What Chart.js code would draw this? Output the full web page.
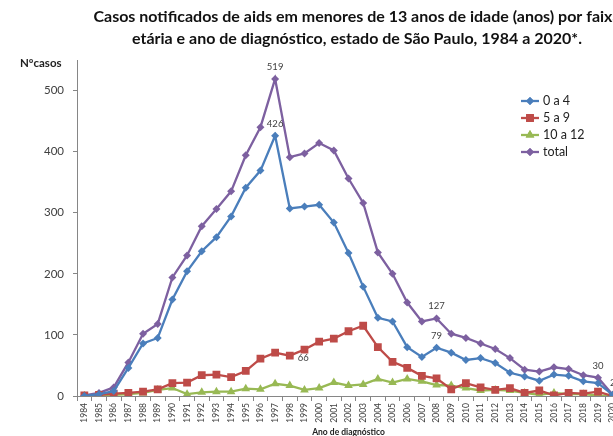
<!DOCTYPE html>
<html>
<head>
<meta charset="utf-8">
<script src="https://cdn.jsdelivr.net/npm/chart.js@4.4.1/dist/chart.umd.min.js"></script>
<style>
  html, body { margin: 0; padding: 0; background: #fff; overflow: hidden; }
  #wrap { width: 714px; height: 445px; }
</style>
</head>
<body>
<div id="wrap"><canvas id="chart" width="714" height="445"></canvas></div>
<script>
const years = ["1984", "1985", "1986", "1987", "1988", "1989", "1990", "1991", "1992", "1993",
  "1994", "1995", "1996", "1997", "1998", "1999", "2000", "2001", "2002", "2003", "2004",
  "2005", "2006", "2007", "2008", "2009", "2010", "2011", "2012", "2013", "2014", "2015",
  "2016", "2017", "2018", "2019", "2020"];

const age0to4 = [0, 3, 8, 46, 86, 95, 158, 204, 237, 260, 294, 341, 369, 426, 307, 310, 313,
  284, 234, 179, 128, 122, 80, 64, 79, 71, 59, 62, 54, 38, 32, 25, 35, 33, 24, 21, 2];
const age5to9 = [1, 2, 4, 5, 7, 11, 21, 22, 34, 35, 31, 41, 61, 71, 66, 76, 89, 94, 106, 115,
  80, 56, 46, 33, 29, 11, 21, 14, 10, 13, 5, 9, 1, 5, 4, 7, 0];
const age10to12 = [0, 0, 2, 3, 5, 10, 13, 3, 6, 7, 7, 12, 11, 20, 17, 10, 13, 22, 17, 19, 28,
  22, 28, 24, 18, 17, 13, 9, 10, 9, 5, 2, 5, 3, 3, 1, 0];
const total = [1, 5, 14, 55, 102, 118, 194, 230, 278, 306, 335, 394, 440, 519, 391, 397, 414,
  402, 356, 316, 235, 200, 153, 122, 127, 102, 95, 86, 77, 62, 43, 40, 47, 44, 34, 30, 2];

const seriesNames = ["0 a 4", "5 a 9", "10 a 12", "total"];
const yTicks = [0, 100, 200, 300, 400, 500];

// which points carry a value label: [series index, year]
const labeledPoints = [[3, "1997"], [0, "1997"], [1, "1998"], [3, "2008"], [0, "2008"], [3, "2019"], [3, "2020"]];

const colors = ["#4a7ebb", "#be4b48", "#98b954", "#7d60a0"];
const markers = [
  { style: "rectRot", radius: 4 },
  { style: "rect", radius: 5.5 },
  { style: "triangle", radius: 5 },
  { style: "rectRot", radius: 4 },
];
const txt = "#404040";
const axisColor = "#868686";

function makeDataset(i, data) {
  return {
    label: seriesNames[i],
    data,
    borderColor: colors[i],
    backgroundColor: colors[i],
    borderWidth: 2.3,
    pointStyle: markers[i].style,
    pointRadius: markers[i].radius,
    pointBorderWidth: 0,
    tension: 0,
  };
}

const valueLabels = {
  id: "valueLabels",
  afterDatasetsDraw(chart) {
    const ctx = chart.ctx;
    ctx.save();
    ctx.font = "9.5px Lato";
    ctx.fillStyle = txt;
    ctx.textBaseline = "middle";
    labeledPoints.forEach(([si, year]) => {
      const idx = years.indexOf(year);
      const pt = chart.getDatasetMeta(si).data[idx];
      const val = chart.data.datasets[si].data[idx];
      if (si === 1) {
        // the 5 a 9 label sits to the right of its marker
        ctx.textAlign = "left";
        ctx.fillText(String(val), pt.x + 8, pt.y + 2);
      } else {
        ctx.textAlign = "center";
        ctx.fillText(String(val), pt.x, pt.y - 12);
      }
    });
    ctx.restore();
  },
};

const extras = {
  id: "extras",
  afterDraw(chart) {
    const ctx = chart.ctx;
    ctx.save();
    // y axis caption
    ctx.font = "bold 11.5px Lato";
    ctx.fillStyle = "#222";
    ctx.textAlign = "left";
    ctx.textBaseline = "middle";
    ctx.fillText("Nºcasos", 20, 63);

    // legend
    const lx = 521;
    const rows = [101, 118, 135, 152];
    chart.data.datasets.forEach((ds, i) => {
      const y = rows[i];
      ctx.strokeStyle = ds.borderColor;
      ctx.lineWidth = 2.3;
      ctx.beginPath();
      ctx.moveTo(lx, y);
      ctx.lineTo(lx + 18, y);
      ctx.stroke();
      ctx.fillStyle = ds.backgroundColor;
      Chart.helpers.drawPoint(ctx, { pointStyle: ds.pointStyle, radius: ds.pointRadius, borderWidth: 0 }, lx + 9, y);
      ctx.fill();
      ctx.fillStyle = "#222";
      ctx.font = "12.5px Lato";
      ctx.textAlign = "left";
      ctx.textBaseline = "middle";
      ctx.fillText(ds.label, lx + 22, y);
    });
    ctx.restore();
  },
};

new Chart(document.getElementById("chart"), {
  type: "line",
  data: {
    labels: years,
    datasets: [
      makeDataset(0, age0to4),
      makeDataset(1, age5to9),
      makeDataset(2, age10to12),
      makeDataset(3, total),
    ],
  },
  options: {
    responsive: false,
    animation: false,
    layout: { padding: 0 },
    plugins: {
      legend: { display: false },
      tooltip: { enabled: false },
      title: {
        display: true,
        text: [
          "Casos notificados de aids em menores de 13 anos de idade (anos) por faixa",
          "etária e ano de diagnóstico, estado de São Paulo, 1984 a 2020*.",
        ],
        color: "#111",
        font: { family: "Lato", size: 16, weight: "bold", lineHeight: 1.375 },
        padding: { top: 6, bottom: 10 },
      },
    },
    scales: {
      x: {
        offset: true,
        grid: { display: true, offset: true, drawOnChartArea: false, drawTicks: true, tickLength: 5, color: axisColor },
        border: { color: axisColor, width: 1 },
        ticks: { color: txt, font: { family: "Lato", size: 8.5 }, minRotation: 90, maxRotation: 90, autoSkip: false, padding: 2 },
        title: {
          display: true,
          text: "Ano de diagnóstico",
          color: "#222",
          font: { family: "Lato", size: 8.5, weight: "bold", lineHeight: 1.2 },
          padding: { top: 2, bottom: 8 },
        },
        afterFit(scale) { scale.height = 49; },
      },
      y: {
        min: 0,
        max: 550,
        afterBuildTicks(scale) {
          scale.ticks = yTicks.map((v) => ({ value: v }));
        },
        grid: { display: true, drawOnChartArea: false, drawTicks: true, tickLength: 4, color: axisColor },
        border: { color: axisColor, width: 1 },
        ticks: { color: txt, font: { family: "Lato", size: 11.5 }, padding: 9 },
        afterFit(scale) { scale.width = 77; },
      },
      // empty right-hand strip so the plot ends where the original does
      yRight: {
        position: "right",
        min: 0,
        max: 550,
        grid: { display: false },
        border: { display: false },
        ticks: { display: false },
        afterFit(scale) { scale.width = 94; },
      },
    },
  },
  plugins: [valueLabels, extras],
});
</script>
</body>
</html>
